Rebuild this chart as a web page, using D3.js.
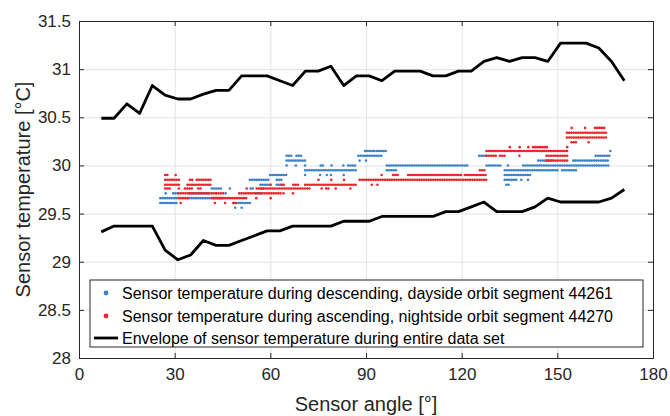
<!DOCTYPE html>
<html>
<head>
<meta charset="utf-8">
<script src="https://cdn.jsdelivr.net/npm/d3@7"></script>
<style>
  body { margin: 0; background: #fff; }
  svg { font-family: "Liberation Sans", Arial, sans-serif; }
</style>
</head>
<body>
<svg id="chart" width="670" height="416"></svg>
<script>
// envelope of sensor temperature over the whole data set
var envAngles = [7, 11, 15, 19, 23, 27, 31, 35, 39, 43, 47, 51, 55, 59, 63, 67, 71, 75, 79, 83, 87,
                 91, 95, 99, 103, 107, 111, 115, 119, 123, 127, 131, 135, 139, 143, 147, 151, 155, 159, 163, 167, 171];
var envUpper = [30.49, 30.49, 30.64, 30.54, 30.83, 30.73, 30.69, 30.69, 30.74, 30.78, 30.78, 30.93, 30.93, 30.93,
                30.88, 30.83, 30.98, 30.98, 31.03, 30.83, 30.93, 30.93, 30.88, 30.98, 30.98, 30.98, 30.93, 30.93,
                30.98, 30.98, 31.08, 31.12, 31.08, 31.12, 31.12, 31.08, 31.27, 31.27, 31.27, 31.22, 31.08, 30.88];
var envLower = [29.31, 29.37, 29.37, 29.37, 29.37, 29.12, 29.02, 29.07, 29.22, 29.17, 29.17, 29.22, 29.27, 29.32,
                29.32, 29.37, 29.37, 29.37, 29.37, 29.42, 29.42, 29.42, 29.47, 29.47, 29.47, 29.47, 29.47, 29.52,
                29.52, 29.57, 29.62, 29.52, 29.52, 29.52, 29.57, 29.66, 29.62, 29.62, 29.62, 29.62, 29.66, 29.75];

// scatter readings, stored as runs of samples: [temperature, first angle, last angle]
var dayRuns = [
  [29.56, 49.0, 49.0], [29.56, 51.0, 51.0],
  [29.61, 25.5, 31.0], [29.61, 48.5, 54.0],
  [29.66, 25.5, 31.0], [29.66, 34.5, 41.0], [29.66, 42.0, 45.5],
  [29.71, 27.2, 27.2], [29.71, 29.5, 31.0], [29.71, 34.5, 41.0], [29.71, 43.0, 43.0], [29.71, 46.0, 46.0], [29.71, 55.5, 57.5],
  [29.76, 41.6, 44.7], [29.76, 47.3, 47.3], [29.76, 53.8, 55.2], [29.76, 57.0, 58.0],
  [29.80, 56.9, 60.0], [29.80, 62.0, 64.0], [29.80, 134.0, 135.0],
  [29.85, 53.6, 59.9], [29.85, 62.0, 64.0], [29.85, 133.5, 137.2], [29.85, 138.7, 138.7], [29.85, 140.8, 140.8],
  [29.90, 59.9, 65.6], [29.90, 70.9, 70.9], [29.90, 75.6, 75.6], [29.90, 77.7, 77.7], [29.90, 79.0, 79.0],
  [29.90, 83.0, 83.0], [29.90, 133.5, 142.0],
  [29.95, 70.9, 87.0], [29.95, 96.5, 99.6], [29.95, 133.5, 150.8], [29.95, 151.5, 156.5],
  [30.00, 65.1, 65.1], [30.00, 68.0, 68.0], [30.00, 70.9, 70.9], [30.00, 75.8, 76.6], [30.00, 79.2, 79.2],
  [30.00, 82.9, 82.9], [30.00, 84.4, 87.0], [30.00, 96.5, 122.0], [30.00, 127.8, 132.5], [30.00, 134.5, 134.5],
  [30.00, 139.3, 166.5],
  [30.05, 65.1, 70.9], [30.05, 88.0, 88.0], [30.05, 90.0, 90.0], [30.05, 144.0, 148.7], [30.05, 155.0, 166.5],
  [30.10, 65.1, 66.7], [30.10, 68.2, 69.8], [30.10, 87.6, 94.9], [30.10, 125.5, 127.8], [30.10, 162.0, 167.0],
  [30.15, 89.7, 92.8], [30.15, 93.3, 96.9], [30.15, 166.6, 166.6]
];
var nightRuns = [
  [29.61, 31.9, 31.9], [29.61, 42.6, 42.6], [29.61, 45.8, 45.8], [29.61, 48.4, 49.4],
  [29.66, 31.2, 34.3], [29.66, 41.6, 53.1], [29.66, 55.6, 55.6], [29.66, 60.1, 60.1],
  [29.71, 31.2, 41.1], [29.71, 41.6, 45.7], [29.71, 50.2, 63.6], [29.71, 64.1, 64.1], [29.71, 67.1, 67.1],
  [29.76, 27.0, 29.0], [29.76, 31.3, 31.3], [29.76, 33.2, 35.9], [29.76, 37.4, 38.2], [29.76, 52.6, 52.6],
  [29.76, 55.7, 73.0], [29.76, 76.1, 76.1], [29.76, 77.5, 78.7], [29.76, 80.5, 81.0], [29.76, 85.1, 85.1],
  [29.80, 27.0, 31.5], [29.80, 34.0, 41.6], [29.80, 60.1, 60.1], [29.80, 63.5, 64.6], [29.80, 67.2, 68.8],
  [29.80, 70.9, 87.0], [29.80, 91.8, 91.8], [29.80, 93.6, 93.6],
  [29.85, 27.0, 31.5], [29.85, 34.8, 35.9], [29.85, 36.9, 41.6], [29.85, 75.1, 75.1], [29.85, 79.1, 79.1],
  [29.85, 83.1, 83.1], [29.85, 88.0, 127.8],
  [29.90, 27.0, 28.0], [29.90, 30.3, 30.9], [29.90, 94.9, 95.4], [29.90, 98.5, 100.1], [29.90, 103.2, 120.0],
  [29.90, 121.0, 127.8],
  [29.95, 125.7, 127.8],
  [30.05, 146.6, 153.4],
  [30.10, 127.8, 131.0], [30.10, 132.0, 134.0], [30.10, 138.1, 138.1], [30.10, 146.6, 153.4],
  [30.15, 127.8, 153.4],
  [30.19, 135.1, 135.1], [30.19, 138.2, 138.2], [30.19, 140.9, 140.9], [30.19, 142.4, 147.1], [30.19, 153.1, 153.1],
  [30.24, 154.4, 156.0], [30.24, 159.8, 159.8],
  [30.29, 153.0, 165.4],
  [30.34, 153.0, 165.4],
  [30.39, 154.5, 154.5], [30.39, 158.7, 158.7], [30.39, 161.8, 165.4]
];

var xTicks = [0, 30, 60, 90, 120, 150, 180];
var yTicks = [28, 28.5, 29, 29.5, 30, 30.5, 31, 31.5];
var legendLabels = [
  "Sensor temperature during descending, dayside orbit segment 44261",
  "Sensor temperature during ascending, nightside orbit segment 44270",
  "Envelope of sensor temperature during entire data set"
];

var blue = "#3d82c6";
var red = "#e8262c";
var axisCol = "#262626";

var pLeft = 79, pRight = 653, pTop = 21, pBottom = 358;
var svg = d3.select("#chart");

var x = d3.scaleLinear().domain([0, 180]).range([pLeft, pRight]);
var y = d3.scaleLinear().domain([28, 31.5]).range([pBottom, pTop]);

// grid
svg.append("g")
    .attr("transform", "translate(0," + pBottom + ")")
    .call(d3.axisBottom(x).tickValues(xTicks).tickSize(-(pBottom - pTop)).tickFormat(""))
    .call(function(g) {
        g.select(".domain").remove();
        g.selectAll("line").attr("stroke", "#e3e3e3");
    });
svg.append("g")
    .attr("transform", "translate(" + pLeft + ",0)")
    .call(d3.axisLeft(y).tickValues(yTicks).tickSize(-(pRight - pLeft)).tickFormat(""))
    .call(function(g) {
        g.select(".domain").remove();
        g.selectAll("line").attr("stroke", "#e3e3e3");
    });

// scatter runs drawn as rows of dots
function drawRuns(runs, colour) {
    svg.append("g")
        .selectAll("line")
        .data(runs)
        .enter().append("line")
        .attr("x1", function(d) { return x(d[1]); })
        .attr("x2", function(d) { return x(d[2]) + 0.01; })
        .attr("y1", function(d) { return y(d[0]); })
        .attr("y2", function(d) { return y(d[0]); })
        .style("stroke", colour)
        .style("stroke-width", 2.6)
        .style("stroke-linecap", "round")
        .style("stroke-dasharray", "0 2.3");
}
drawRuns(dayRuns, blue);
drawRuns(nightRuns, red);

// envelope
var line = d3.line()
    .x(function(d) { return x(d[0]); })
    .y(function(d) { return y(d[1]); });
[envUpper, envLower].forEach(function(vals) {
    svg.append("path")
        .datum(envAngles.map(function(a, i) { return [a, vals[i]]; }))
        .attr("d", line)
        .style("fill", "none")
        .style("stroke", "#000")
        .style("stroke-width", 2.8)
        .style("stroke-linejoin", "round");
});

// axes, ticks pointing inward on all four sides
function styleAxis(g) {
    g.select(".domain").attr("stroke", axisCol);
    g.selectAll(".tick line").attr("stroke", axisCol);
    g.selectAll("text")
        .attr("fill", axisCol)
        .style("font-size", "17px")
        .style("font-family", "'Liberation Sans', Arial, sans-serif");
}
svg.append("g")
    .attr("transform", "translate(0," + pBottom + ")")
    .call(d3.axisBottom(x).tickValues(xTicks).tickSizeInner(-5).tickSizeOuter(0).tickPadding(10))
    .call(styleAxis);
svg.append("g")
    .attr("transform", "translate(0," + pTop + ")")
    .call(d3.axisTop(x).tickValues(xTicks).tickSizeInner(-5).tickSizeOuter(0).tickFormat(""))
    .call(styleAxis);
svg.append("g")
    .attr("transform", "translate(" + pLeft + ",0)")
    .call(d3.axisLeft(y).tickValues(yTicks).tickSizeInner(-5).tickSizeOuter(0).tickPadding(8)
        .tickFormat(function(d) { return d; }))
    .call(styleAxis);
svg.append("g")
    .attr("transform", "translate(" + pRight + ",0)")
    .call(d3.axisRight(y).tickValues(yTicks).tickSizeInner(-5).tickSizeOuter(0).tickFormat(""))
    .call(styleAxis);

// axis titles
svg.append("text")
    .attr("x", (pLeft + pRight) / 2)
    .attr("y", 411)
    .attr("text-anchor", "middle")
    .attr("fill", axisCol)
    .style("font-size", "20px")
    .text("Sensor angle [°]");
svg.append("text")
    .attr("transform", "translate(30," + (pTop + pBottom) / 2 + ") rotate(-90)")
    .attr("text-anchor", "middle")
    .attr("fill", axisCol)
    .style("font-size", "20px")
    .text("Sensor temperature [°C]");

// legend
var lg = svg.append("g");
lg.append("rect")
    .attr("x", 90).attr("y", 280)
    .attr("width", 553).attr("height", 67)
    .style("fill", "#fff")
    .style("stroke", "#262626")
    .style("stroke-width", 1);
var rowY = [293, 316, 338];
lg.append("circle").attr("cx", 106).attr("cy", rowY[0]).attr("r", 2.4).style("fill", blue);
lg.append("circle").attr("cx", 106).attr("cy", rowY[1]).attr("r", 2.4).style("fill", red);
lg.append("line")
    .attr("x1", 94).attr("x2", 118)
    .attr("y1", rowY[2]).attr("y2", rowY[2])
    .style("stroke", "#000").style("stroke-width", 2.8);
lg.selectAll("text.lab")
    .data(legendLabels)
    .enter().append("text")
    .attr("class", "lab")
    .attr("x", 122)
    .attr("y", function(d, i) { return rowY[i] + 6; })
    .attr("fill", "#000")
    .style("font-size", "16px")
    .text(function(d) { return d; });
</script>
</body>
</html>
